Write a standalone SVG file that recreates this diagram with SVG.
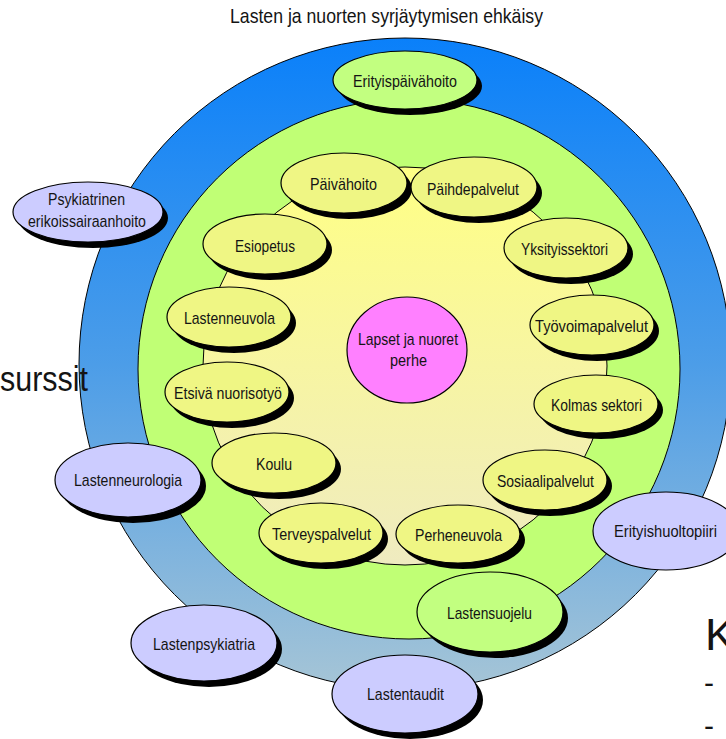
<svg xmlns="http://www.w3.org/2000/svg" width="726" height="739" viewBox="0 0 726 739">
<defs>
<linearGradient id="gBlue" x1="0" y1="0" x2="0" y2="1">
<stop offset="0" stop-color="#0a80fa"/>
<stop offset="0.5" stop-color="#4c9de8"/>
<stop offset="1" stop-color="#a6c5d6"/>
</linearGradient>
<linearGradient id="gYellow" x1="0" y1="0" x2="0" y2="1">
<stop offset="0" stop-color="#ffff85"/>
<stop offset="1" stop-color="#efebc0"/>
</linearGradient>
</defs>
<style>
.ring{stroke:#000;stroke-width:1}
.sh{fill:#000}
.ny{fill:#eff684;stroke:#000;stroke-width:1.2}
.ng{fill:#c2ff80;stroke:#000;stroke-width:1.2}
.nb{fill:#ccccff;stroke:#000;stroke-width:1.2}
.np{fill:#ff80ff;stroke:#000;stroke-width:1.2}
text{font-family:"Liberation Sans",Arial,sans-serif;fill:#141414}
.t{font-size:17px;text-anchor:middle}
</style>
<g id="background">
<ellipse class="ring" cx="405" cy="364" rx="326" ry="326" fill="url(#gBlue)"/>
<ellipse class="ring" cx="409" cy="369" rx="271" ry="270" fill="#c0ff75"/>
<ellipse class="ring" cx="405" cy="366" rx="202" ry="199" fill="url(#gYellow)"/>
</g>
<g id="title"><text x="230" y="23" font-size="21" textLength="313" lengthAdjust="spacingAndGlyphs">Lasten ja nuorten syrjäytymisen ehkäisy</text></g>
<g id="side-texts">
<text x="0" y="391" font-size="35" textLength="88" lengthAdjust="spacingAndGlyphs">surssit</text>
<text x="705" y="650" font-size="45">K</text>
<text x="704" y="693" font-size="30">-</text>
<text x="704" y="736" font-size="30">-</text>
</g>
<g id="n-erityispaivahoito"><ellipse class="sh" cx="410" cy="86" rx="72" ry="29"/><ellipse class="ng" cx="405" cy="80" rx="72" ry="29"/><text class="t" x="405" y="87" textLength="104" lengthAdjust="spacingAndGlyphs">Erityispäivähoito</text></g>
<g id="n-paivahoito"><ellipse class="sh" cx="349" cy="189" rx="63" ry="30"/><ellipse class="ny" cx="344" cy="183" rx="63" ry="30"/><text class="t" x="343.5" y="190" textLength="67" lengthAdjust="spacingAndGlyphs">Päivähoito</text></g>
<g id="n-paihdepalvelut"><ellipse class="sh" cx="479" cy="193" rx="63" ry="30"/><ellipse class="ny" cx="474" cy="187" rx="63" ry="30"/><text class="t" x="473" y="194.5" textLength="92" lengthAdjust="spacingAndGlyphs">Päihdepalvelut</text></g>
<g id="n-esiopetus"><ellipse class="sh" cx="270" cy="250" rx="62" ry="30"/><ellipse class="ny" cx="265" cy="244" rx="62" ry="30"/><text class="t" x="265" y="251.5" textLength="60" lengthAdjust="spacingAndGlyphs">Esiopetus</text></g>
<g id="n-yksityissektori"><ellipse class="sh" cx="571" cy="254" rx="62" ry="30"/><ellipse class="ny" cx="566" cy="248" rx="62" ry="30"/><text class="t" x="564.5" y="255" textLength="87" lengthAdjust="spacingAndGlyphs">Yksityissektori</text></g>
<g id="n-lastenneuvola"><ellipse class="sh" cx="234" cy="323" rx="62" ry="30"/><ellipse class="ny" cx="229" cy="317" rx="62" ry="30"/><text class="t" x="229.5" y="324" textLength="91" lengthAdjust="spacingAndGlyphs">Lastenneuvola</text></g>
<g id="n-tyovoimapalvelut"><ellipse class="sh" cx="597" cy="331" rx="62" ry="30"/><ellipse class="ny" cx="592" cy="325" rx="62" ry="30"/><text class="t" x="591.5" y="332" textLength="113" lengthAdjust="spacingAndGlyphs">Työvoimapalvelut</text></g>
<g id="n-etsiva"><ellipse class="sh" cx="232" cy="398" rx="62" ry="30"/><ellipse class="ny" cx="227" cy="392" rx="62" ry="30"/><text class="t" x="228" y="399" textLength="108" lengthAdjust="spacingAndGlyphs">Etsivä nuorisotyö</text></g>
<g id="n-kolmas"><ellipse class="sh" cx="601" cy="410" rx="62" ry="29"/><ellipse class="ny" cx="596" cy="404" rx="62" ry="29"/><text class="t" x="596.5" y="411" textLength="91" lengthAdjust="spacingAndGlyphs">Kolmas sektori</text></g>
<g id="n-koulu"><ellipse class="sh" cx="279" cy="469" rx="62" ry="30"/><ellipse class="ny" cx="274" cy="463" rx="62" ry="30"/><text class="t" x="274" y="470" textLength="36" lengthAdjust="spacingAndGlyphs">Koulu</text></g>
<g id="n-sosiaalipalvelut"><ellipse class="sh" cx="550" cy="486" rx="62" ry="30"/><ellipse class="ny" cx="545" cy="480" rx="62" ry="30"/><text class="t" x="545.5" y="487" textLength="97" lengthAdjust="spacingAndGlyphs">Sosiaalipalvelut</text></g>
<g id="n-terveyspalvelut"><ellipse class="sh" cx="326" cy="539" rx="62" ry="30"/><ellipse class="ny" cx="321" cy="533" rx="62" ry="30"/><text class="t" x="321.5" y="540" textLength="99" lengthAdjust="spacingAndGlyphs">Terveyspalvelut</text></g>
<g id="n-perheneuvola"><ellipse class="sh" cx="463" cy="540" rx="62" ry="29"/><ellipse class="ny" cx="458" cy="534" rx="62" ry="29"/><text class="t" x="458.5" y="541" textLength="87" lengthAdjust="spacingAndGlyphs">Perheneuvola</text></g>
<g id="n-lastensuojelu"><ellipse class="sh" cx="495" cy="618" rx="73" ry="40"/><ellipse class="ng" cx="490" cy="612" rx="73" ry="40"/><text class="t" x="489.5" y="619" textLength="85" lengthAdjust="spacingAndGlyphs">Lastensuojelu</text></g>
<g id="n-lapset"><ellipse class="np" cx="407" cy="350" rx="60" ry="53"/><text class="t" x="408" y="345" textLength="100" lengthAdjust="spacingAndGlyphs">Lapset ja nuoret</text><text class="t" x="408.5" y="366" textLength="37" lengthAdjust="spacingAndGlyphs">perhe</text></g>
<g id="n-psykiatrinen"><ellipse class="sh" cx="93" cy="218" rx="75" ry="30"/><ellipse class="nb" cx="88" cy="212" rx="75" ry="30"/><text class="t" x="86.5" y="205" textLength="77" lengthAdjust="spacingAndGlyphs">Psykiatrinen</text><text class="t" x="87" y="227" textLength="118" lengthAdjust="spacingAndGlyphs">erikoissairaanhoito</text></g>
<g id="n-lastenneurologia"><ellipse class="sh" cx="133" cy="486" rx="73" ry="37"/><ellipse class="nb" cx="128" cy="480" rx="73" ry="37"/><text class="t" x="128" y="486" textLength="108" lengthAdjust="spacingAndGlyphs">Lastenneurologia</text></g>
<g id="n-lastenpsykiatria"><ellipse class="sh" cx="209" cy="649" rx="73" ry="38"/><ellipse class="nb" cx="204" cy="643" rx="73" ry="38"/><text class="t" x="204" y="650" textLength="102" lengthAdjust="spacingAndGlyphs">Lastenpsykiatria</text></g>
<g id="n-lastentaudit"><ellipse class="sh" cx="410" cy="700" rx="73" ry="39"/><ellipse class="nb" cx="405" cy="694" rx="73" ry="39"/><text class="t" x="405.5" y="700" textLength="77" lengthAdjust="spacingAndGlyphs">Lastentaudit</text></g>
<g id="n-erityishuoltopiiri"><ellipse class="nb" cx="666" cy="531" rx="73" ry="39"/><text class="t" x="665.5" y="537" textLength="103" lengthAdjust="spacingAndGlyphs">Erityishuoltopiiri</text></g>
</svg>
